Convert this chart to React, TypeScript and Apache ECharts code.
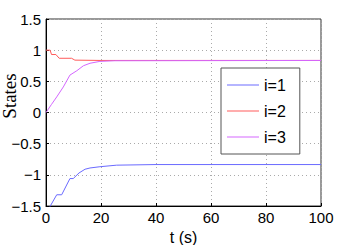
import React, { useEffect, useRef } from "react";
import * as echarts from "echarts";

const seriesNames = ["i=1", "i=2", "i=3"];
const colors = ["#6a6aff", "#ff5a5a", "#d466ff"];
const tBlue = [0, 3.9, 5.7, 8.7, 9.9, 12, 14.2, 16, 19.6, 25.7, 40, 100];
const vBlue = [-1.62, -1.32, -1.32, -1.06, -1.06, -0.97, -0.91, -0.89, -0.87, -0.845, -0.835, -0.835];
const tRed = [0, 1.5, 2, 3.6, 4.8, 9.3, 10.5, 20, 100];
const vRed = [1.0, 1.0, 0.93, 0.93, 0.87, 0.87, 0.84, 0.835, 0.835];
const tMag = [0, 2, 3.9, 6.3, 8.7, 11.2, 13.6, 16, 19.6, 25, 100];
const vMag = [0, 0.13, 0.25, 0.41, 0.6, 0.67, 0.75, 0.79, 0.82, 0.83, 0.835];

const pair = (t: number[], v: number[]) => t.map((x, i) => [x, v[i]]);

export default function App() {
  const ref = useRef<HTMLDivElement>(null);
  useEffect(() => {
    const chart = echarts.init(ref.current!, null, { renderer: "svg" });
    const data = [pair(tBlue, vBlue), pair(tRed, vRed), pair(tMag, vMag)];
    chart.setOption({
      animation: false,
      grid: {
        left: 46, top: 19, right: 33, bottom: 39,
        show: true, borderColor: "#333", borderWidth: 1,
        containLabel: false, outerBoundsMode: "none",
      },
      graphic: [
        {
          type: "text",
          x: 9,
          y: 96,
          rotation: Math.PI / 2,
          style: {
            text: "States",
            fontFamily: "Liberation Serif",
            fontSize: 19,
            fill: "#000",
            textAlign: "center",
            textVerticalAlign: "middle",
          },
        },
      ],
      legend: {
        orient: "vertical",
        left: 221,
        top: 68,
        data: seriesNames,
        icon: "rect",
        backgroundColor: "#fff",
        borderColor: "#555",
        borderWidth: 1,
        borderRadius: 0,
        padding: [9, 14, 9, 6],
        itemGap: 10,
        itemWidth: 32,
        itemHeight: 1,
        textStyle: { fontFamily: "Liberation Sans", fontSize: 16, color: "#000", lineHeight: 16 },
      },
      xAxis: {
        type: "value",
        min: 0,
        max: 100,
        interval: 20,
        name: "t (s)",
        nameLocation: "middle",
        nameGap: 19,
        nameTextStyle: { fontFamily: "Liberation Sans", fontSize: 16, color: "#000" },
        axisLine: { show: true, onZero: false, lineStyle: { color: "#000" } },
        axisTick: { inside: true, length: 3, lineStyle: { color: "#000" } },
        axisLabel: { fontFamily: "Liberation Sans", fontSize: 15, color: "#000", margin: 4 },
        splitLine: { show: true, lineStyle: { type: [1, 3], color: "#aaa" } },
      },
      yAxis: {
        type: "value",
        min: -1.5,
        max: 1.5,
        interval: 0.5,
        axisLine: { show: true, onZero: false, lineStyle: { color: "#000" } },
        axisTick: { inside: true, length: 3, lineStyle: { color: "#000" } },
        axisLabel: {
          fontFamily: "Liberation Sans",
          fontSize: 15,
          color: "#000",
          margin: 5,
          formatter: (v: number) => String(v).replace("-", "\u2212"),
        },
        splitLine: { show: true, lineStyle: { type: [1, 3], color: "#aaa" } },
      },
      series: seriesNames.map((n, i) => ({
        name: n,
        type: "line",
        data: data[i],
        symbol: "none",
        clip: true,
        color: colors[i],
        lineStyle: { width: 1, color: colors[i] },
      })),
    });
    return () => chart.dispose();
  }, []);
  return <div ref={ref} style={{ width: 354, height: 245, position: "absolute", left: 0, top: 0 }} />;
}
